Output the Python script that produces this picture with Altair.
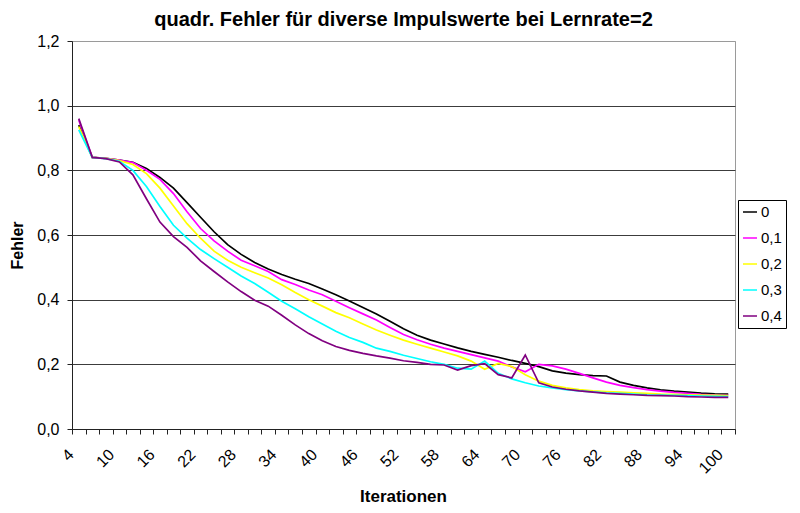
import altair as alt
import pandas as pd

# ---- data ----
iterations = list(range(4, 101, 2))          # 49 categories: 4, 6, ..., 100
series_names = ["0", "0,1", "0,2", "0,3", "0,4"]
series_colors = ["#000000", "#FF00FF", "#FFFF00", "#00FFFF", "#800080"]

err_0 = [0.940, 0.840, 0.837, 0.832, 0.825, 0.806, 0.778, 0.745, 0.700, 0.655,
         0.610, 0.570, 0.540, 0.515, 0.495, 0.478, 0.463, 0.450, 0.433, 0.415,
         0.396, 0.376, 0.356, 0.333, 0.310, 0.290, 0.275, 0.263, 0.251, 0.240,
         0.231, 0.222, 0.212, 0.203, 0.193, 0.180, 0.173, 0.168, 0.165, 0.164,
         0.145, 0.135, 0.127, 0.121, 0.117, 0.114, 0.111, 0.109, 0.108]

err_01 = [0.955, 0.840, 0.837, 0.832, 0.824, 0.800, 0.772, 0.728, 0.672, 0.620,
          0.582, 0.550, 0.522, 0.505, 0.487, 0.462, 0.447, 0.430, 0.415, 0.395,
          0.375, 0.356, 0.337, 0.314, 0.292, 0.276, 0.262, 0.250, 0.240, 0.230,
          0.220, 0.210, 0.192, 0.177, 0.200, 0.195, 0.185, 0.172, 0.158, 0.145,
          0.135, 0.128, 0.122, 0.117, 0.113, 0.110, 0.107, 0.105, 0.104]

err_02 = [0.935, 0.840, 0.837, 0.830, 0.818, 0.790, 0.745, 0.690, 0.635, 0.590,
          0.550, 0.522, 0.500, 0.483, 0.467, 0.446, 0.422, 0.400, 0.380, 0.360,
          0.344, 0.325, 0.306, 0.290, 0.275, 0.262, 0.250, 0.238, 0.226, 0.210,
          0.185, 0.203, 0.193, 0.168, 0.148, 0.135, 0.127, 0.122, 0.118, 0.116,
          0.114, 0.112, 0.110, 0.108, 0.107, 0.106, 0.105, 0.104, 0.103]

err_03 = [0.925, 0.840, 0.836, 0.828, 0.800, 0.750, 0.688, 0.630, 0.590, 0.555,
          0.527, 0.500, 0.473, 0.450, 0.423, 0.395, 0.372, 0.347, 0.325, 0.302,
          0.283, 0.268, 0.250, 0.240, 0.228, 0.218, 0.208, 0.200, 0.188, 0.185,
          0.210, 0.172, 0.155, 0.143, 0.133, 0.127, 0.122, 0.118, 0.115, 0.112,
          0.110, 0.108, 0.106, 0.105, 0.104, 0.103, 0.102, 0.101, 0.100]

err_04 = [0.960, 0.840, 0.836, 0.826, 0.786, 0.712, 0.640, 0.595, 0.562, 0.520,
          0.487, 0.455, 0.425, 0.398, 0.380, 0.352, 0.322, 0.295, 0.273, 0.255,
          0.243, 0.234, 0.226, 0.219, 0.211, 0.206, 0.200, 0.198, 0.182, 0.196,
          0.202, 0.168, 0.158, 0.229, 0.143, 0.130, 0.123, 0.118, 0.114, 0.110,
          0.108, 0.106, 0.104, 0.103, 0.102, 0.100, 0.099, 0.098, 0.098]

x_tick_values = list(range(3, 102, 2))   # category boundaries (Excel style ticks)
y_tick_values = [0, 0.2, 0.4, 0.6, 0.8, 1.0, 1.2]

rows = []
for k, (name, vals) in enumerate(zip(series_names, [err_0, err_01, err_02, err_03, err_04])):
    for it, v in zip(iterations, vals):
        rows.append({"Iteration": it, "Fehler": v, "Impuls": name, "k": k})
df = pd.DataFrame(rows)

FONT = "Liberation Sans"

x_axis = alt.Axis(
    values=x_tick_values,
    title="Iterationen",
    labelExpr="(datum.value + 1 - 4) % 6 == 0 ? format(datum.value + 1, 'd') : ''",
    labelAngle=315,
    labelAlign="right",
    labelBaseline="top",
    labelOffset=-7,
    labelPadding=12,
    labelOverlap=False,
    labelFlush=False,
    labelFont=FONT,
    labelFontSize=16,
    labelColor="#000000",
    tickSize=5,
    tickColor="#222222",
    domainColor="#222222",
    grid=False,
    titleFont=FONT,
    titleFontSize=17,
    titleFontWeight="bold",
    titleColor="#000000",
    titleX=331,
    titleY=67,
    titleBaseline="middle",
    titleAlign="center",
)

y_axis = alt.Axis(
    values=y_tick_values,
    title="Fehler",
    labelExpr="replace(format(datum.value, '.1f'), '.', ',')",
    labelFont=FONT,
    labelFontSize=16,
    labelColor="#000000",
    labelPadding=8,
    tickSize=5,
    tickColor="#222222",
    domainColor="#222222",
    grid=True,
    gridColor={"condition": {"test": "datum.value > 1.19", "value": "#9a9a9a"}, "value": "#3c3c3c"},
    gridWidth=1,
    titleFont=FONT,
    titleFontSize=16,
    titleFontWeight="bold",
    titleColor="#000000",
    titleX=-55,
    titleY=204,
    titleAngle=270,
    titleBaseline="middle",
    titleAlign="center",
)

legend = alt.Legend(
    title=None,
    orient="none",
    legendX=666,
    legendY=159,
    direction="vertical",
    strokeColor="#000000",
    fillColor="#ffffff",
    padding=4,
    symbolType="stroke",
    symbolSize=196,
    symbolStrokeWidth=1.5,
    labelFont=FONT,
    labelFontSize=15,
    labelColor="#000000",
    labelOffset=3,
    labelLimit=24,
    rowPadding=10,
)

chart = alt.Chart(df).mark_line(strokeWidth=1.7).encode(
    x=alt.X("Iteration:Q", scale=alt.Scale(domain=[3, 101], nice=False, zero=False), axis=x_axis),
    y=alt.Y("Fehler:Q", scale=alt.Scale(domain=[0, 1.2], nice=False, zero=True), axis=y_axis),
    color=alt.Color("Impuls:N", scale=alt.Scale(domain=series_names, range=series_colors), legend=legend),
    detail="k:O",
).properties(
    width=663,
    height=388,
    title=alt.TitleParams(
        text="quadr. Fehler für diverse Impulswerte bei Lernrate=2",
        font=FONT,
        fontSize=20,
        fontWeight="bold",
        color="#000000",
        anchor="middle",
        frame="group",
        offset=3,
    ),
    autosize=alt.AutoSizeParams(type="none"),
    padding={"left": 64, "top": 33, "right": 57, "bottom": 80},
    background="#ffffff",
).configure_view(
    stroke="#9a9a9a",
    strokeWidth=1,
)

chart.save("out.html", embed_options={"renderer": "svg", "actions": False})
